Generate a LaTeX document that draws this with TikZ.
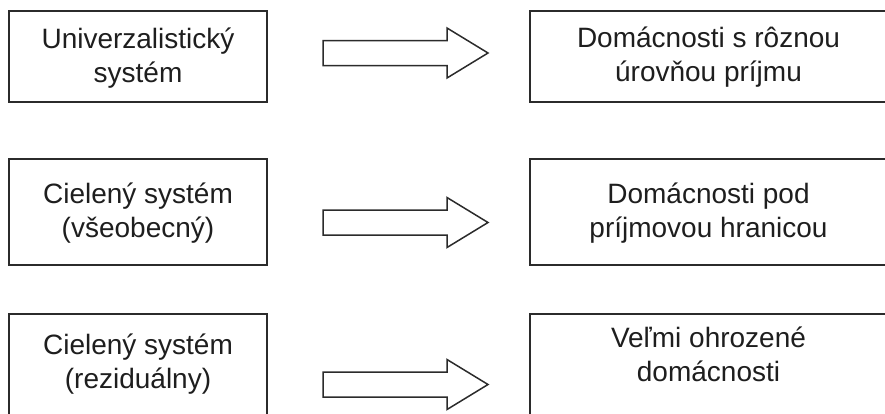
\documentclass[tikz,border=0pt]{standalone}
\usepackage{fontspec}
\setmainfont{Liberation Sans}
\usetikzlibrary{calc}
\definecolor{lc}{HTML}{2B2B2B}
\definecolor{tc}{HTML}{1E1E1E}
\begin{document}
\begin{tikzpicture}[x=1pt,y=-1pt,
  box/.style={draw=lc,line width=1.8pt,inner sep=0pt},
  lbox/.style={box,minimum width=258pt},
  rbox/.style={box,minimum width=366pt},
  txt/.style={text=tc,align=center,inner sep=0pt,font=\fontsize{28}{34}\selectfont},
  blockarrow/.style={draw=lc,line width=1.5pt,line join=miter}]
\useasboundingbox (0,0) rectangle (885,413);
\clip (0,0) rectangle (885,413);
% boxes
\node[lbox,minimum height=91pt]  (l1) at (138,56.5) {};
\node[rbox,minimum height=91pt]  (r1) at (713,56.5) {};
\node[lbox,minimum height=106pt] (l2) at (138,212) {};
\node[rbox,minimum height=106pt] (r2) at (713,212) {};
\node[lbox,minimum height=106pt] (l3) at (138,367) {};
\node[rbox,minimum height=106pt] (r3) at (713,367) {};
% texts
\node[txt] (tl1) at (138,65) {\smash{Univerzalistický}\\\smash{systém}};
\node[txt] (tr1) at (708.5,64.5) {\smash{Domácnosti s rôznou}\\\smash{úrovňou príjmu}};
\node[txt] (tl2) at (138,220) {\smash{Cielený systém}\\\smash{(všeobecný)}};
\node[txt] (tr2) at (708.5,220) {\smash{Domácnosti pod}\\\smash{príjmovou hranicou}};
\node[txt] (tl3) at (138,371.5) {\smash{Cielený systém}\\\smash{(reziduálny)}};
\node[txt] (tr3) at (708.5,364) {\smash{Veľmi ohrozené}\\\smash{domácnosti}};
% block arrows
\coordinate (a1) at (323,53);
\coordinate (a2) at (323,222.5);
\coordinate (a3) at (323,384.5);
\foreach \c in {a1,a2,a3}{
  \draw[blockarrow] ($(\c)+(0,-12.5)$) -- ++(124,0) -- ++(0,-12.5) -- ++(41,25)
    -- ++(-41,25) -- ++(0,-12.5) -- ++(-124,0) -- cycle;
}
\end{tikzpicture}
\end{document}
